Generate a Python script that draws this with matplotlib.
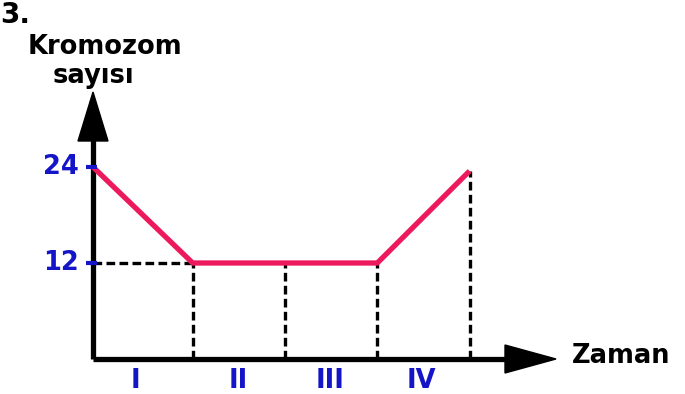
import matplotlib
matplotlib.use("Agg")
import matplotlib.pyplot as plt
from matplotlib.patches import Polygon

# Data
times = [0, 1.08, 2.08, 3.08, 4.08]
chromosomes = [24, 12, 12, 12, 23.5]
ytick_values = [24, 12]
ytick_labels = ["24", "12"]
phase_labels = ["I", "II", "III", "IV"]
phase_centers = [0.46, 1.57, 2.57, 3.56]

W, H = 685, 394
fig = plt.figure(figsize=(W / 100, H / 100), dpi=100)
ax = fig.add_axes([0, 0, 1, 1])
ax.set_axis_off()

x0px, xs = 93, 92.3   # pixel of x=0, px per unit
y0px, ys = 359, 8.0   # pixel (from top) of y=0, px per unit
ax.set_xlim(-x0px / xs, (W - x0px) / xs)
ax.set_ylim(-(H - y0px) / ys, y0px / ys)

def px2x(p):
    return (p - x0px) / xs

def px2y(p):
    return (y0px - p) / ys

blue = "#1414c8"
pink = "#ec1a5c"
FS = 18.5

# dashed guide lines
ax.plot([0, times[1]], [12, 12], ls=(0, (2.6, 1.3)), color="black", lw=2.4, zorder=2)
for t, c in zip(times[1:], chromosomes[1:]):
    ax.plot([t, t], [0, c], ls=(0, (2.6, 1.3)), color="black", lw=2.4, zorder=2)

# axes lines
ax.plot([0, 0], [0, px2y(140)], color="black", lw=3.8, solid_capstyle="butt", zorder=3)
ax.plot([0, px2x(508)], [0, 0], color="black", lw=3.8, solid_capstyle="butt", zorder=3)
# arrow heads
ax.add_patch(Polygon([[px2x(78), px2y(141)], [px2x(108), px2y(141)], [px2x(93), px2y(92)]],
                     closed=True, color="black", zorder=3))
ax.add_patch(Polygon([[px2x(505), px2y(345)], [px2x(505), px2y(373)], [px2x(556), px2y(359)]],
                     closed=True, color="black", zorder=3))

# data line
ax.plot(times, chromosomes, color=pink, lw=3.8, solid_capstyle="butt", solid_joinstyle="miter", zorder=4)

# y ticks
for v, lab in zip(ytick_values, ytick_labels):
    ax.plot([px2x(86), px2x(97)], [v, v], color=blue, lw=3.0, zorder=5, solid_capstyle="butt")
    ax.text(px2x(79), v, lab, color=blue, fontsize=FS, fontweight="bold",
            ha="right", va="center", family="DejaVu Sans")

# phase labels
for c, lab in zip(phase_centers, phase_labels):
    ax.text(c, px2y(381), lab, color=blue, fontsize=FS, fontweight="bold",
            ha="center", va="center", family="DejaVu Sans")

# texts
ax.text(px2x(0), px2y(15), "3.", fontsize=20, fontweight="bold", ha="left", va="center")
ax.text(px2x(105), px2y(47), "Kromozom", fontsize=FS, fontweight="bold", ha="center", va="center")
ax.text(px2x(93), px2y(76), "sayısı", fontsize=FS, fontweight="bold", ha="center", va="center")
ax.text(px2x(572), px2y(356), "Zaman", fontsize=FS, fontweight="bold", ha="left", va="center")

fig.savefig("out.png", dpi=100)
